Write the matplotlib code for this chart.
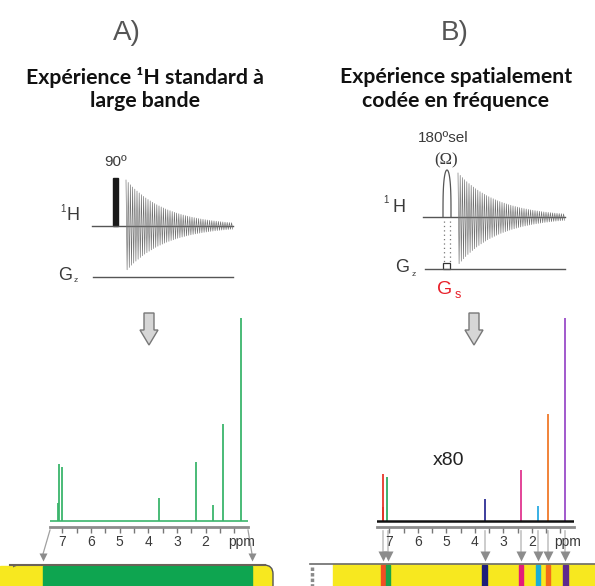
import numpy as np
import matplotlib.pyplot as plt
from matplotlib import patches
from matplotlib.transforms import blended_transform_factory

W, H = 595, 586

# ppm scale shared by both spectra
ppm_lim = (7.43, 0.52)
ppm_ticks = [7, 6, 5, 4, 3, 2]
ppm_minor = np.arange(1.0, 7.01, 0.5)

# A) standard broadband 1H spectrum (relative intensity, tallest = 100)
peaks_a_ppm = [7.16, 7.13, 7.02, 3.61, 2.33, 1.74, 1.38, 0.78]
peaks_a_int = [9.0, 28.1, 26.6, 11.3, 29.1, 7.9, 47.8, 100.0]

# B) spatially frequency-encoded spectrum (shown x80)
peaks_b_ppm = [7.23, 7.21, 7.08, 3.65, 2.38, 1.79, 1.43, 0.82]
peaks_b_int = [6.9, 23.2, 21.7, 10.8, 25.1, 7.4, 52.7, 100.0]
peaks_b_col = ['#9b1b1b', '#e8372a', '#2fae63', '#2e2f95', '#e0358f',
               '#2aaae2', '#f07a2a', '#9a4cc8']

# slices excited in the tube
bands_ppm = [7.21, 7.04, 3.65, 2.38, 1.79, 1.43, 0.82]
bands_col = ['#f04e23', '#1aa24a', '#1e1e7a', '#e31c79', '#1aaed6',
             '#f26a1a', '#5e2a8e']

YELLOW = '#f7e81f'
GREEN_BAR = '#0ea550'
GREEN_LINE = '#3bb56c'
GRAY_TXT = '#3a3a3a'

fig = plt.figure(figsize=(W / 100, H / 100), dpi=100)

# overlay in pixel units for the schematic parts
ov = fig.add_axes([0, 0, 1, 1])
ov.set_xlim(0, W)
ov.set_ylim(H, 0)
ov.axis('off')


def px_axes(x0, x1, y0, y1):
    return fig.add_axes([x0 / W, 1 - y1 / H, (x1 - x0) / W, (y1 - y0) / H])


# headings
ov.text(127, 33, 'A)', fontsize=20, color='#555555', ha='center', va='center',
        family='Liberation Sans')
ov.text(455, 33, 'B)', fontsize=20, color='#555555', ha='center', va='center',
        family='Liberation Sans')
tkw = dict(fontsize=15.3, fontweight='bold', ha='center', va='center',
           family='Lato', color='#111111')
ov.text(145, 77, 'Expérience ¹H standard à', **tkw)
ov.text(145, 101, 'large bande', **tkw)
ov.text(456, 77, 'Expérience spatialement', **tkw)
ov.text(456, 101, 'codée en fréquence', **tkw)


def fid(x0, x1, y0, up, dn, tau):
    # schematic free induction decay drawn as a dense zigzag
    x = np.arange(x0, x1, 1.1)
    env = np.exp(-(x - x0) / tau)
    odd = np.arange(len(x)) % 2 == 1
    y = np.where(odd, y0 + dn * env, y0 - up * env)
    ov.plot(x, y, color='#6f6f6f', lw=0.45)


lab = dict(family='Liberation Sans', color=GRAY_TXT, va='center', ha='center')

# A) pulse sequence
ov.plot([92, 233], [226, 226], color='#555555', lw=1)
ov.plot([93, 233], [277, 277], color='#555555', lw=1)
ov.add_patch(patches.Rectangle((113, 178), 5, 48, color='#1a1a1a'))
fid(126, 233, 226, 46, 45, 40)
ov.text(115.5, 162, '90º', fontsize=11, **lab)
ov.text(63, 209, '1', fontsize=7, **lab)
ov.text(72.5, 216, 'H', fontsize=13, **lab)
ov.text(65, 275, 'G', fontsize=13, **lab)
ov.text(75.5, 281, 'z', fontsize=6, **lab)

# B) pulse sequence
ov.plot([423, 565], [217, 217], color='#555555', lw=1)
ov.plot([425, 565], [269, 269], color='#555555', lw=1)
t = np.linspace(0, np.pi, 60)
ov.plot(447 - 4 * np.cos(t), 217 - 47 * np.sin(t) ** 0.6, color='#555555', lw=0.9)
fid(458, 565, 217, 44, 48, 40)
for xd in (444, 450):
    ov.plot([xd, xd], [221, 262], color='#777777', lw=0.9, ls=(0, (1, 2.5)))
ov.add_patch(patches.Rectangle((443, 263), 7, 6, fill=False, ec='#333333', lw=0.9))
ov.text(443, 138, '180ºsel', fontsize=11, **lab)
ov.text(446, 160, '(Ω)', fontsize=12, family='Liberation Serif', color=GRAY_TXT,
        ha='center', va='center')
ov.text(386, 200, '1', fontsize=7, **lab)
ov.text(399, 208, 'H', fontsize=13, **lab)
ov.text(402, 267, 'G', fontsize=13, **lab)
ov.text(413.5, 274, 'z', fontsize=6, **lab)
ov.text(445, 289, 'G', fontsize=14, family='Liberation Sans', color='#e8202a',
        ha='center', va='center')
ov.text(458, 295, 's', fontsize=9, family='Liberation Sans', color='#e8202a',
        ha='center', va='center')


def down_arrow(cx):
    pts = [(cx - 5, 313), (cx + 5, 313), (cx + 5, 330), (cx + 9, 330),
           (cx, 345), (cx - 9, 330), (cx - 5, 330)]
    ov.add_patch(patches.Polygon(pts, closed=True, fc='#d6d6d6', ec='#777777', lw=1))


down_arrow(149)
down_arrow(474)


def spectrum_axes(x0, x1):
    ax = px_axes(x0, x1, 310, 527)
    ax.set_xlim(*ppm_lim)
    ax.set_ylim(-2.96, 103.9)
    ax.patch.set_visible(False)
    for s in ('top', 'right', 'left'):
        ax.spines[s].set_visible(False)
    ax.spines['bottom'].set_color('#8c8c8c')
    ax.spines['bottom'].set_linewidth(2)
    ax.set_yticks([])
    ax.set_xticks(ppm_ticks)
    ax.set_xticks(ppm_minor, minor=True)
    ax.tick_params(axis='x', which='both', direction='out', length=4, width=1,
                   color='#777777', labelsize=10, labelcolor=GRAY_TXT, pad=2)
    for t in ax.get_xticklabels():
        t.set_family('Liberation Sans')
    ax.annotate('ppm', xy=(0.73, 0), xycoords=('data', 'axes fraction'),
                xytext=(0, -5.5), textcoords='offset points', ha='center', va='top',
                fontsize=10, color=GRAY_TXT, family='Liberation Sans')
    return ax


# A) spectrum
axa = spectrum_axes(50, 248)
axa.plot(ppm_lim, [0, 0], color=GREEN_LINE, lw=1.2)
axa.vlines(peaks_a_ppm, 0, peaks_a_int, colors=GREEN_LINE, lw=1.3)

# B) spectrum
axb = spectrum_axes(377, 574)
axb.vlines(peaks_b_ppm, 0, peaks_b_int, colors=peaks_b_col, lw=1.3)
axb.plot(ppm_lim, [0, 0], color='#111111', lw=1.8)
axb.text(4.91, 30, 'x80', fontsize=14, color='#222222', ha='center', va='center',
         family='Liberation Sans')

# A) tube: whole sample is observed
tube = patches.FancyBboxPatch((10, 565), 263, 60, boxstyle='round,pad=0,rounding_size=9',
                              fc=YELLOW, ec='#555555', lw=1)
ov.add_patch(tube)
ov.add_patch(patches.Rectangle((0, 566), 12, 30, color=YELLOW))
ov.add_patch(patches.Rectangle((43, 566), 209, 30, color=GREEN_BAR))
ov.plot([10, 265], [565, 565], color='#6b6258', lw=1.5)
for (xa, xb) in ((50, 43), (248, 252)):
    ov.plot([xa, xb], [530, 554], color='#a0a0a0', lw=0.9)
    ov.plot([xb], [557], marker='v', ms=6, color='#8c8c8c', mec='none')

# B) tube: each slice selects one signal
ov.add_patch(patches.Rectangle((310, 564), 23, 30, color='white'))
ov.add_patch(patches.Rectangle((333, 564), 270, 30, color=YELLOW))
ov.plot([310, 595], [564, 564], color='#6b6b6b', lw=1.2)
ov.plot([311.5, 311.5], [567, 586], color='#8a8a8a', lw=2.5, ls=(0, (1, 0.6)))
btr = blended_transform_factory(axb.transData, ov.transData)
for p, c in zip(bands_ppm, bands_col):
    ov.add_patch(patches.Rectangle((p - 0.08, 565), 0.16, 30, color=c, transform=btr))
    ov.plot([p, p], [531, 553], color='#c4c4c4', lw=1.2, transform=btr)
    ov.plot([p], [556], marker='v', ms=6.5, color='#8c8c8c', mec='none', transform=btr)

fig.savefig('out.png', dpi=100)
